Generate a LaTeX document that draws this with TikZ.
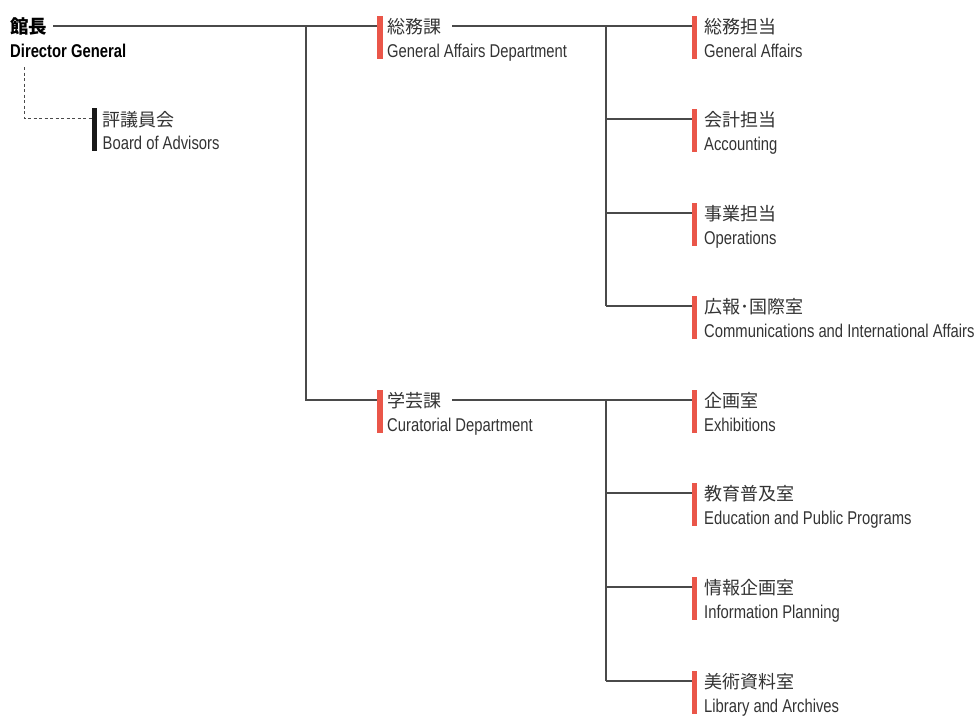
\documentclass[tikz,border=0pt]{standalone}
\usepackage{fontspec}
\setmainfont{Liberation Sans}[FakeStretch=0.8]
\newfontfamily\jpfont{Noto Sans CJK JP}
\definecolor{barred}{HTML}{EA5649}
\definecolor{lc}{HTML}{4A4A4A}
\definecolor{tc}{HTML}{333333}
\tikzset{
  ln/.style={draw=lc, line width=1.2pt},
  dashln/.style={draw=lc, line width=1pt, dash pattern=on 3pt off 2.5pt},
  redbar/.style={fill=barred, draw=none, minimum width=5.5pt, minimum height=43pt, inner sep=0pt, anchor=north west},
  blackbar/.style={redbar, fill=black!90},
  jpt/.style={anchor=base west, inner sep=0pt, text=tc, font=\jpfont\fontsize{18}{18}\selectfont},
  ent/.style={anchor=base west, inner sep=0pt, text=tc, font=\fontsize{18.5}{18.5}\selectfont},
  jpb/.style={jpt, text=black, font=\jpfont\bfseries\fontsize{18.5}{18.5}\selectfont},
  enb/.style={ent, text=black, font=\bfseries\fontsize{18.5}{18.5}\selectfont},
}
\newcommand\orgunit[7]{% name, bar style, barx, textx, yc, JP, EN
  \node[#2] (#1-bar) at ({#3},{#5-10}) {};
  \coordinate (#1-in) at ({#3},{#5});
  \node[jpt] (#1-jp) at ({#4},{#5+7}) {#6};
  \node[ent] (#1-en) at ({#4},{#5+31}) {#7};
}
\begin{document}
\begin{tikzpicture}[x=1pt,y=-1pt]
\useasboundingbox (0,0) rectangle (976,715);
% Director General
\node[jpb] (dg-jp) at (10,33) {館長};
\node[enb] (dg-en) at (10,57) {Director General};
% Board of Advisors
\node[blackbar] (ba-bar) at (91.5,108) {};
\coordinate (ba-in) at (91.5,118);
\node[jpt] (ba-jp) at (102.5,126) {評議員会};
\node[ent] (ba-en) at (102.5,149) {Board of Advisors};
% departments
\orgunit{ga}{redbar}{377}{387}{26}{総務課}{General Affairs Department}
\orgunit{cu}{redbar}{377}{387}{400}{学芸課}{Curatorial Department}
% sections
\orgunit{s1}{redbar}{691.5}{704}{26}{総務担当}{General Affairs}
\orgunit{s2}{redbar}{691.5}{704}{119}{会計担当}{Accounting}
\orgunit{s3}{redbar}{691.5}{704}{213}{事業担当}{Operations}
\orgunit{s4}{redbar}{691.5}{704}{306}{広報･国際室}{Communications and International Affairs}
\orgunit{s5}{redbar}{691.5}{704}{400}{企画室}{Exhibitions}
\orgunit{s6}{redbar}{691.5}{704}{493}{教育普及室}{Education and Public Programs}
\orgunit{s7}{redbar}{691.5}{704}{587}{情報企画室}{Information Planning}
\orgunit{s8}{redbar}{691.5}{704}{681}{美術資料室}{Library and Archives}
% junction coordinates
\coordinate (dg-out) at (53,26);
\coordinate (j0) at (306,26);
\coordinate (ga-out) at (452,26);
\coordinate (cu-out) at (452,400);
\coordinate (j1) at (606,26);
\coordinate (j2) at (606,400);
\coordinate (dg-dash) at (24,67);
% connectors
\draw[ln] (dg-out) -- (ga-in);
\draw[ln] (j0) |- (cu-in);
\draw[ln] (ga-out) -- (s1-in);
\draw[ln] (j1) -- (j1 |- s4-in);
\foreach \s in {s2,s3,s4}{\draw[ln] (j1 |- \s-in) -- (\s-in);}
\draw[ln] (cu-out) -- (s5-in);
\draw[ln] (j2) -- (j2 |- s8-in);
\foreach \s in {s6,s7,s8}{\draw[ln] (j2 |- \s-in) -- (\s-in);}
\draw[dashln] (dg-dash) |- (ba-in);
\end{tikzpicture}
\end{document}
